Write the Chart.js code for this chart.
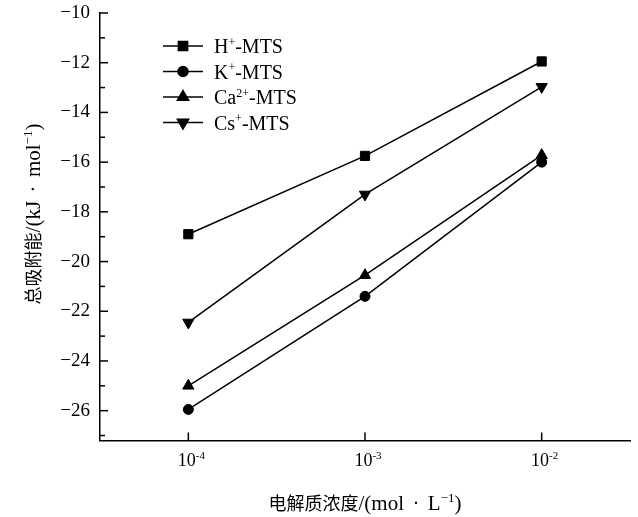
<!DOCTYPE html>
<html>
<head>
<meta charset="utf-8">
<script src="https://cdn.jsdelivr.net/npm/chart.js@4/dist/chart.umd.min.js"></script>
<style>
  html, body { margin: 0; padding: 0; background: #fff; }
  #wrap { width: 638px; height: 517px; }
</style>
</head>
<body>
<div id="wrap"><canvas id="c" width="638" height="517"></canvas></div>
<script>
// log10 of concentration, shown as 10^-4 .. 10^-2
const concLog = [-4, -3, -2];
const xTickLabels = [['10', '-4'], ['10', '-3'], ['10', '-2']];
const yTicks = [-26, -24, -22, -20, -18, -16, -14, -12, -10];

const seriesNames = [['H', '+', '-MTS'], ['K', '+', '-MTS'], ['Ca', '2+', '-MTS'], ['Cs', '+', '-MTS']];
const hMTS = [-18.9, -15.75, -11.95];
const kMTS = [-25.95, -21.4, -16.0];
const caMTS = [-25.0, -20.55, -15.72];
const csMTS = [-22.45, -17.3, -12.97];

const SERIF = '"Liberation Serif", "Times New Roman", serif';
const CJK = '"Noto Sans CJK SC", sans-serif';

function pts(vals) {
  return vals.map((v, i) => ({ x: concLog[i], y: v }));
}

// parts = [[text, kind]], kind: 'c' cjk, 'l' latin, 's' superscript
function partFont(kind, size) {
  if (kind === 'c') return size.c + 'px ' + CJK;
  if (kind === 's') return Math.round(size.l * 0.6) + 'px ' + SERIF;
  return size.l + 'px ' + SERIF;
}
function drawRich(ctx, parts, x, y, size, align) {
  let w = 0;
  parts.forEach(p => { ctx.font = partFont(p[1], size); w += ctx.measureText(p[0]).width; });
  let cx = align === 'center' ? x - w / 2 : x;
  ctx.textBaseline = 'alphabetic';
  ctx.textAlign = 'left';
  parts.forEach(p => {
    ctx.font = partFont(p[1], size);
    ctx.fillText(p[0], cx, p[1] === 's' ? y - size.l * 0.36 : y);
    cx += ctx.measureText(p[0]).width;
  });
}

const extras = {
  id: 'extras',
  afterDraw(chart) {
    const ctx = chart.ctx;
    const xs = chart.scales.x, ys = chart.scales.y;
    const a = chart.chartArea;
    ctx.save();
    ctx.strokeStyle = '#000';
    ctx.fillStyle = '#000';
    ctx.lineWidth = 1.5;
    // inward ticks on y axis, major every 2, minor between
    for (let v = -27; v <= -10; v++) {
      const py = ys.getPixelForValue(v);
      const len = (v % 2 === 0) ? 8 : 5;
      ctx.beginPath();
      ctx.moveTo(a.left, py);
      ctx.lineTo(a.left + len, py);
      ctx.stroke();
    }
    // inward ticks on x axis + labels
    concLog.forEach((v, i) => {
      const px = xs.getPixelForValue(v);
      ctx.beginPath();
      ctx.moveTo(px, a.bottom);
      ctx.lineTo(px, a.bottom - 8);
      ctx.stroke();
      drawRich(ctx, [[xTickLabels[i][0], 'l'], [xTickLabels[i][1], 's']], px + 3, a.bottom + 25, { l: 18, c: 18 }, 'center');
    });
    // axis titles
    drawRich(ctx, [['电解质浓度', 'c'], ['/(mol\u2009\u2009·\u2009\u2009L', 'l'], ['\u22121', 's'], [')', 'l']], (a.left + a.right) / 2, 510, { l: 21, c: 18 }, 'center');
    ctx.save();
    ctx.translate(40, 214);
    ctx.rotate(-Math.PI / 2);
    drawRich(ctx, [['总吸附能', 'c'], ['/(kJ\u2009\u2009·\u2009\u2009mol', 'l'], ['\u22121', 's'], [')', 'l']], 0, 0, { l: 21, c: 18 }, 'center');
    ctx.restore();
    // legend
    chart.data.datasets.forEach((ds, i) => {
      const ly = 46 + i * 25.5;
      ctx.lineWidth = 1.5;
      ctx.beginPath();
      ctx.moveTo(163, ly);
      ctx.lineTo(203, ly);
      ctx.stroke();
      Chart.helpers.drawPoint(ctx, {
        pointStyle: ds.pointStyle, rotation: ds.pointRotation || 0,
        radius: ds.pointRadius, borderWidth: 1
      }, 183, ly);
      ctx.fillStyle = '#000';
      const n = seriesNames[i];
      drawRich(ctx, [[n[0], 'l'], [n[1], 's'], [n[2], 'l']], 214, ly + 7, { l: 20, c: 20 }, 'left');
    });
    ctx.restore();
  }
};

const base = { borderColor: '#000', backgroundColor: '#000', borderWidth: 1.5, pointBorderWidth: 1 };

new Chart(document.getElementById('c'), {
  type: 'line',
  data: {
    datasets: [
      Object.assign({ label: 'H+-MTS', data: pts(hMTS), pointStyle: 'rect', pointRadius: 6.5 }, base),
      Object.assign({ label: 'K+-MTS', data: pts(kMTS), pointStyle: 'circle', pointRadius: 5 }, base),
      Object.assign({ label: 'Ca2+-MTS', data: pts(caMTS), pointStyle: 'triangle', pointRadius: 6.5 }, base),
      Object.assign({ label: 'Cs+-MTS', data: pts(csMTS), pointStyle: 'triangle', pointRotation: 180, pointRadius: 6.5 }, base)
    ]
  },
  options: {
    responsive: false,
    animation: false,
    layout: { padding: { left: 0, top: 13, right: 8, bottom: 0 } },
    plugins: { legend: { display: false }, tooltip: { enabled: false } },
    scales: {
      x: {
        type: 'linear', min: -4.5, max: -1.5,
        afterBuildTicks: s => { s.ticks = concLog.map(v => ({ value: v })); },
        afterFit: s => { s.height = 76.5; s.paddingLeft = 0; s.paddingRight = 0; },
        ticks: { display: false },
        grid: { display: false, drawTicks: false },
        border: { display: true, color: '#000', width: 1.5 }
      },
      y: {
        min: -27.2, max: -10,
        afterBuildTicks: s => { s.ticks = yTicks.map(v => ({ value: v })); },
        afterFit: s => { s.width = 100; s.paddingTop = 0; s.paddingBottom = 0; },
        ticks: {
          color: '#000', padding: 10,
          font: { family: SERIF, size: 19 },
          callback: v => (v < 0 ? '\u2212' : '') + Math.abs(v)
        },
        grid: { display: false, drawTicks: false },
        border: { display: true, color: '#000', width: 1.5 }
      }
    }
  },
  plugins: [extras]
});
</script>
</body>
</html>
